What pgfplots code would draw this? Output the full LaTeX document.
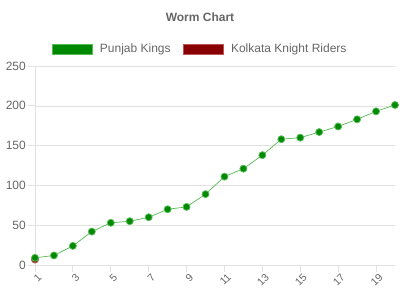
\documentclass[border=0pt]{standalone}
\usepackage{pgfplots}
\pgfplotsset{compat=1.18}
\usepackage{fontspec}
\setmainfont{Liberation Sans}
\definecolor{pk}{HTML}{008800}
\definecolor{pkl}{HTML}{55BB55}
\definecolor{kkr}{HTML}{880000}
\definecolor{kkrl}{HTML}{BB5555}
\definecolor{gridc}{HTML}{E2E2E2}
\definecolor{txt}{HTML}{666666}
\begin{document}
\begin{tikzpicture}[x=1pt,y=1pt]
\useasboundingbox (0,0) rectangle (400,300);
\begin{axis}[
  at={(35pt,35pt)}, anchor=south west,
  scale only axis, width=360pt, height=199pt,
  xmin=1, xmax=20, ymin=0, ymax=250,
  xtick={1,3,...,19}, ytick={0,50,...,250},
  axis line style={draw=gridc},
  axis x line*=bottom, axis y line*=left,
  ymajorgrids, grid style={gridc},
  tick style={draw=gridc, line width=0.8pt},
  major tick length=7pt,
  tick align=outside,
  x tick label style={rotate=45, anchor=east, font=\fontsize{10.5}{10.5}\selectfont, text=txt, inner sep=1pt, yshift=-6pt, xshift=2pt},
  y tick label style={font=\fontsize{12}{12}\selectfont, text=txt, inner sep=2pt},
  /pgf/number format/assume math mode=true,
  clip=false,
  legend columns=2,
  legend style={at={(0.5,1.0)}, anchor=center, yshift=17pt, xshift=-15pt, draw=none, fill=none,
    font=\fontsize{12}{12}\selectfont, text=txt, inner sep=0pt,
    /tikz/every even column/.append style={column sep=10pt}},
  legend cell align=left,
]
\addplot[pkl, line width=0.7pt, mark=*, mark size=3.5pt, mark options={fill=pk, draw=pkl, line width=0.8pt},
  legend image code/.code={\path[draw=none,fill=none] (0pt,-5pt) rectangle (46pt,5pt); \path[fill=pk, draw=pkl, line width=0.8pt] (0pt,-5pt) rectangle (40pt,5pt);}]
  coordinates {(1,7)};
\addlegendentry{Punjab Kings}
\addplot[kkrl, line width=0.7pt, mark=*, mark size=3.5pt, mark options={fill=kkr, draw=kkrl, line width=0.8pt},
  legend image code/.code={\path[draw=none,fill=none] (0pt,-5pt) rectangle (46pt,5pt); \path[fill=kkr, draw=kkrl, line width=0.8pt] (0pt,-5pt) rectangle (40pt,5pt);}]
  coordinates {(1,7)};
\addlegendentry{Kolkata Knight Riders}
\addplot[pkl, line width=0.7pt, mark=*, mark size=3.5pt, mark options={fill=pk, draw=pkl, line width=0.8pt}, forget plot]
  coordinates {(1,9) (2,12) (3,24) (4,42) (5,53) (6,55) (7,60) (8,70) (9,73) (10,89)
  (11,111) (12,121) (13,138) (14,158) (15,160) (16,167) (17,174) (18,183) (19,193) (20,201)};
\end{axis}
\node[font=\bfseries\fontsize{12}{12}\selectfont, text=txt] at (200,283) {Worm Chart};
\end{tikzpicture}
\end{document}
